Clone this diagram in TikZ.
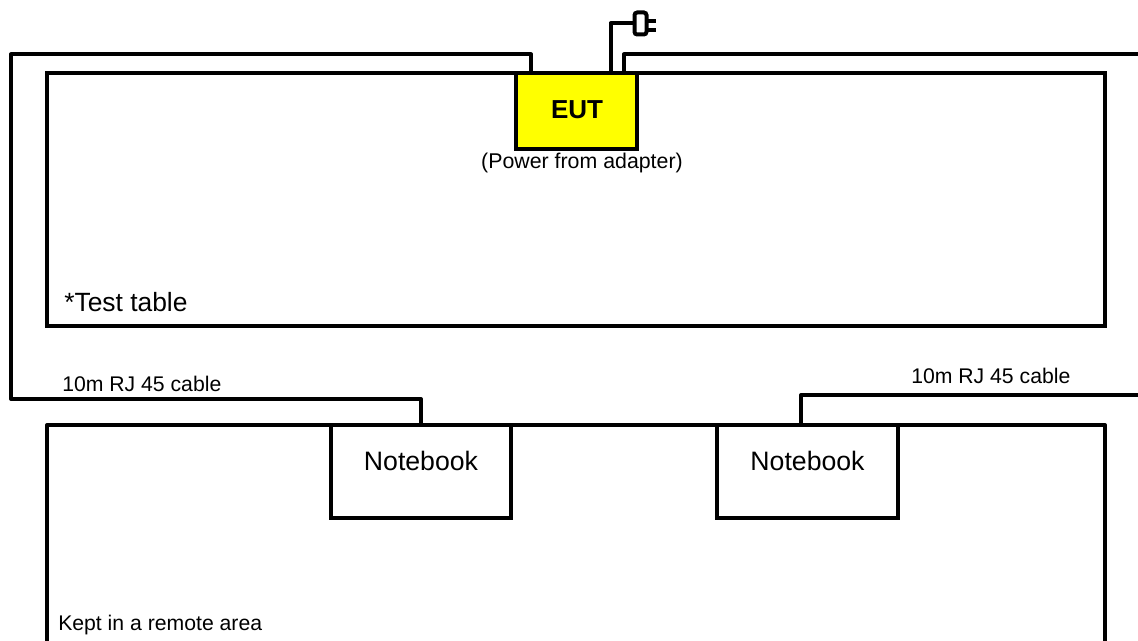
\documentclass[tikz,border=0pt]{standalone}
\usepackage{fontspec}
\setmainfont{Liberation Sans}
\definecolor{eutyellow}{RGB}{255,255,0}
\begin{document}
\begin{tikzpicture}[x=0.75pt, y=-0.75pt,
    wire/.style ={line width=3pt, line join=round},
    box/.style ={draw, line width=3pt, inner sep=0pt, outer sep=0pt},
    caption/.style ={inner sep=0pt, anchor=base west, font=\fontsize{15.9pt}{18pt}\selectfont}]
   \useasboundingbox (0,0) rectangle (1138,641);
   \node[box, minimum width=1058*0.75pt, minimum height=253*0.75pt] (table) at (576,199.5) {};
   \node[box, fill=eutyellow, minimum width=121*0.75pt, minimum height=76*0.75pt] (eut) at (576.5,111) {};
   \node[inner sep=0pt, font=\fontsize{19.5pt}{22pt}\selectfont\bfseries] (eutname) at (577,110) {EUT};
   \node[inner sep=0pt, font=\fontsize{16pt}{18pt}\selectfont] (power) at (582,163) {(Power from adapter)};
   \node[caption, font=\fontsize{19.8pt}{22pt}\selectfont] (testtable) at (64,312) {*Test table};

   \node[box, minimum width=180*0.75pt, minimum height=93*0.75pt] (nb1) at (421,471.5) {};
   \node[box, minimum width=181*0.75pt, minimum height=93*0.75pt] (nb2) at (807.5,471.5) {};
   \node[inner sep=0pt, font=\fontsize{20pt}{24pt}\selectfont] (nb1name) at (421,461) {Notebook};
   \node[inner sep=0pt, font=\fontsize{20pt}{24pt}\selectfont] (nb2name) at (807.5,461) {Notebook};
   \node[caption] (cable1) at (62,392) {10m RJ 45 cable};
   \node[caption] (cable2) at (911,383) {10m RJ 45 cable};
   \node[caption] (remote) at (58,630) {Kept in a remote area};

   \node[box, rounded corners=2pt, minimum width=12*0.75pt, minimum height=22*0.75pt] (plug) at (640.5,23.5) {};
   \coordinate (prong1) at (656,21);
   \coordinate (prong2) at (656,30);
   \coordinate (areaL) at (47,650);
   \coordinate (areaR) at (1105,650);
   \coordinate (farL) at (11,399);
   \coordinate (portL) at (531,73);
   \coordinate (portR) at (624,73);
   \coordinate (portP) at (610.5,73);
   \coordinate (exitR) at (1140,54.5);
   \coordinate (exitN) at (1140,395);

   \draw[wire] (areaL) |- (areaR |- nb1.north) -- (areaR);
   \draw[wire] (nb1.north) |- (farL) |- (portL |- exitR) -- (portL);
   \draw[wire] (portR) |- (exitR);
   \draw[wire] (nb2.north -| 801,0) |- (exitN);
   \draw[wire] (portP) |- (plug.west);
   \draw[wire] (prong1 -| plug.east) -- (prong1);
   \draw[wire] (prong2 -| plug.east) -- (prong2);
 \end{tikzpicture}
\end{document}
